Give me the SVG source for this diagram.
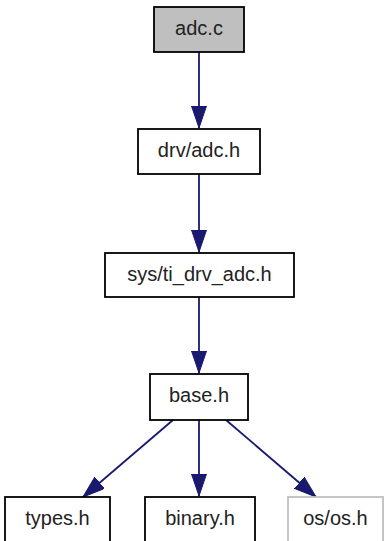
<svg xmlns="http://www.w3.org/2000/svg" width="385" height="541" viewBox="0 0 385 541">
<style>
.box{fill:#fff;stroke:#000;stroke-width:1.8}
.cur{fill:#bfbfbf}
.ext{stroke:#bfbfbf}
.lbl{font-family:"Liberation Sans",Arial,sans-serif;font-size:20px;fill:#222;text-anchor:middle}
.edge{stroke:#191970;stroke-width:1.8;fill:none}
</style>
<defs>
<marker id="ah" markerUnits="userSpaceOnUse" markerWidth="24" markerHeight="16" refX="22" refY="7.5" orient="auto" viewBox="0 0 24 16">
<path d="M0,0 L22,7.5 L0,15 Z" fill="#191970" stroke="#191970" stroke-width="1"/>
</marker>
</defs>
<rect width="385" height="541" fill="#fff"/>
<g id="edges">
<line class="edge" x1="199" y1="52" x2="199" y2="128" marker-end="url(#ah)"/>
<line class="edge" x1="199" y1="174" x2="199" y2="252" marker-end="url(#ah)"/>
<line class="edge" x1="199" y1="297" x2="199" y2="373" marker-end="url(#ah)"/>
<line class="edge" x1="173" y1="420" x2="83" y2="497" marker-end="url(#ah)"/>
<line class="edge" x1="199" y1="420" x2="199" y2="496" marker-end="url(#ah)"/>
<line class="edge" x1="226" y1="420" x2="316" y2="497" marker-end="url(#ah)"/>
</g>
<g id="node_adc_c"><rect class="box cur" x="154" y="7" width="90" height="45"/><text class="lbl" x="199" y="35">adc.c</text></g>
<g id="node_drv_adc_h"><rect class="box" x="138" y="129" width="122" height="45"/><text class="lbl" x="199" y="157">drv/adc.h</text></g>
<g id="node_sys_ti_drv_adc_h"><rect class="box" x="105" y="253" width="189" height="44"/><text class="lbl" x="199.5" y="281">sys/ti_drv_adc.h</text></g>
<g id="node_base_h"><rect class="box" x="150" y="374" width="98" height="46"/><text class="lbl" x="199" y="402">base.h</text></g>
<g id="node_types_h"><rect class="box" x="5" y="497" width="105" height="46"/><text class="lbl" x="57.5" y="525">types.h</text></g>
<g id="node_binary_h"><rect class="box" x="145" y="497" width="110" height="46"/><text class="lbl" x="200" y="525">binary.h</text></g>
<g id="node_os_os_h"><rect class="box ext" x="288" y="497" width="95" height="46"/><text class="lbl" x="335.5" y="525">os/os.h</text></g>
</svg>
